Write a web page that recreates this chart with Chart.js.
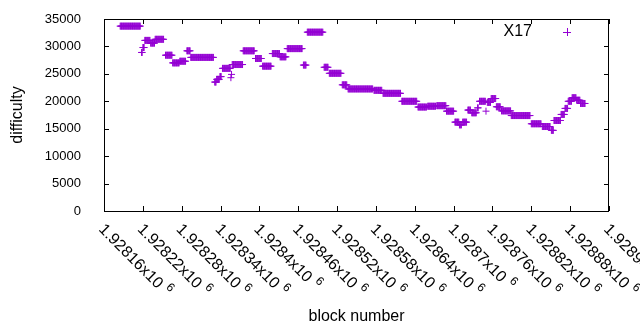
<!DOCTYPE html>
<html>
<head>
<meta charset="utf-8">
<script src="https://cdn.jsdelivr.net/npm/chart.js@4.4.1/dist/chart.umd.min.js"></script>
<style>
  html, body { margin: 0; padding: 0; background: #fff; }
</style>
</head>
<body>
<canvas id="c" width="640" height="330"></canvas>
<script>
// difficulty stays flat over runs of blocks: first block, last block, value
const runStart = [
  1928185, 1928218, 1928220, 1928223, 1928232, 1928239, 1928255, 1928266, 1928277, 1928288,
  1928294, 1928331, 1928334, 1928339, 1928343, 1928356, 1928357, 1928358, 1928375, 1928394,
  1928405, 1928420, 1928432, 1928443, 1928468, 1928474, 1928500, 1928508, 1928528, 1928537,
  1928577, 1928591, 1928620, 1928645, 1928660, 1928674, 1928689, 1928702, 1928709, 1928714,
  1928722, 1928728, 1928737, 1928740, 1928750, 1928752, 1928758, 1928766, 1928774, 1928789,
  1928820, 1928837, 1928851, 1928855, 1928866, 1928872, 1928877, 1928883, 1928890, 1928896
];
const runEnd = [
  1928216, 1928219, 1928222, 1928231, 1928238, 1928252, 1928265, 1928276, 1928286, 1928293,
  1928329, 1928333, 1928338, 1928341, 1928355, 1928356, 1928357, 1928374, 1928392, 1928403,
  1928418, 1928431, 1928441, 1928466, 1928472, 1928498, 1928506, 1928526, 1928535, 1928575,
  1928589, 1928618, 1928643, 1928658, 1928672, 1928688, 1928700, 1928708, 1928712, 1928720,
  1928726, 1928735, 1928738, 1928749, 1928750, 1928757, 1928765, 1928772, 1928788, 1928818,
  1928835, 1928849, 1928854, 1928865, 1928871, 1928876, 1928882, 1928889, 1928895, 1928903
];
const runValue = [
  33700, 28900, 29800, 31100, 30600, 31300, 28400, 27000, 27300, 29200,
  28000, 23500, 24000, 24500, 26000, 24300, 24900, 26700, 29200, 27800,
  26400, 28700, 28100, 29600, 26600, 32600, 26200, 25100, 23000, 22250,
  22000, 21450, 20000, 18950, 19100, 19200, 18200, 16200, 15700, 16200,
  18400, 17900, 18800, 20000, 18200, 19800, 20500, 19000, 18250, 17400,
  15900, 15400, 14700, 16500, 17600, 18700, 20000, 20650, 20200, 19600
];

const yTicks = [0, 5000, 10000, 15000, 20000, 25000, 30000, 35000];
const xTicks = [
  1928160, 1928220, 1928280, 1928340, 1928400, 1928460, 1928520,
  1928580, 1928640, 1928700, 1928760, 1928820, 1928880, 1928940
];
const xTickLabels = [
  "1.92816", "1.92822", "1.92828", "1.92834", "1.9284", "1.92846", "1.92852",
  "1.92858", "1.92864", "1.9287", "1.92876", "1.92882", "1.92888", "1.92894"
];

const points = [];
runStart.forEach((s, i) => {
  for (let b = s; b <= runEnd[i]; b++) points.push({ x: b, y: runValue[i] });
});

const FONT = "Liberation Sans, Arial, sans-serif";
const PURPLE = "#9400d3";

// gnuplot look: closed box, inward ticks on all sides, rotated labels, key top right
const frame = {
  id: "frame",
  afterDraw(chart) {
    const { ctx, chartArea: a, scales: { x, y } } = chart;
    ctx.save();
    ctx.strokeStyle = "#000";
    ctx.lineWidth = 1;
    ctx.strokeRect(a.left + 0.5, a.top + 0.5, a.right - a.left - 1, a.bottom - a.top);
    ctx.beginPath();
    yTicks.forEach((v) => {
      const py = Math.round(y.getPixelForValue(v)) + 0.5;
      ctx.moveTo(a.left, py); ctx.lineTo(a.left + 5, py);
      ctx.moveTo(a.right, py); ctx.lineTo(a.right - 5, py);
    });
    xTicks.forEach((v) => {
      const px = Math.round(x.getPixelForValue(v)) + 0.5;
      ctx.moveTo(px, a.bottom); ctx.lineTo(px, a.bottom - 5);
      ctx.moveTo(px, a.top); ctx.lineTo(px, a.top + 5);
    });
    ctx.stroke();

    ctx.fillStyle = "#000";
    ctx.textBaseline = "middle";
    xTicks.forEach((v, i) => {
      const px = x.getPixelForValue(v);
      ctx.save();
      ctx.translate(px - 3, a.bottom + 16);
      ctx.rotate(Math.PI / 4);
      ctx.font = "16px " + FONT;
      ctx.textAlign = "left";
      const t = xTickLabels[i] + "x10";
      ctx.fillText(t, 0, 0);
      const w = ctx.measureText(t).width;
      ctx.font = "12px " + FONT;
      ctx.fillText("6", w + 5, -6);
      ctx.restore();
    });

    ctx.font = "16px " + FONT;
    ctx.textAlign = "right";
    ctx.fillText("X17", 532, 32);
    ctx.strokeStyle = PURPLE;
    ctx.beginPath();
    ctx.moveTo(563, 32.5); ctx.lineTo(571, 32.5);
    ctx.moveTo(567.5, 28); ctx.lineTo(567.5, 36);
    ctx.stroke();
    ctx.restore();
  }
};

new Chart(document.getElementById("c"), {
  type: "scatter",
  data: {
    datasets: [{
      label: "X17",
      data: points,
      showLine: false,
      pointStyle: "cross",
      pointRadius: 3.5,
      pointBorderWidth: 1,
      borderColor: PURPLE,
      backgroundColor: PURPLE
    }]
  },
  options: {
    responsive: false,
    animation: false,
    devicePixelRatio: 1,
    events: [],
    layout: { padding: { left: 0, right: 31, top: 19, bottom: 0 } },
    plugins: { legend: { display: false }, tooltip: { enabled: false } },
    scales: {
      x: {
        type: "linear",
        min: 1928160,
        max: 1928940,
        ticks: { display: false },
        grid: { display: false, drawTicks: false },
        border: { display: false },
        title: {
          display: true,
          text: "block number",
          color: "#000",
          font: { family: FONT, size: 16 },
          padding: { top: 0, bottom: 4 }
        },
        afterFit(s) { s.height = 119; }
      },
      y: {
        min: 0,
        max: 35000,
        ticks: {
          stepSize: 5000,
          padding: 23,
          color: "#000",
          font: { family: FONT, size: 13 },
          callback: (v) => String(v)
        },
        grid: { display: false, drawTicks: false },
        border: { display: false },
        title: {
          display: true,
          text: "difficulty",
          color: "#000",
          font: { family: FONT, size: 16 },
          padding: { top: 8, bottom: 0 }
        },
        afterFit(s) {
          s.width = 104;
          // tick padding would otherwise push the plot area down
          s.paddingTop = 0;
          s.paddingBottom = 0;
        }
      }
    }
  },
  plugins: [frame]
});
</script>
</body>
</html>
